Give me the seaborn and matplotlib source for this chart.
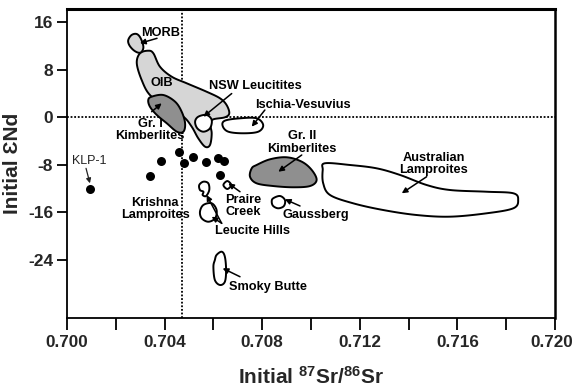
import numpy as np
import pandas as pd
import matplotlib
matplotlib.use("Agg")
import matplotlib.pyplot as plt
import matplotlib.transforms as mtransforms
import seaborn as sns

# ---------------- data ----------------
# individual samples (black dots): initial 87Sr/86Sr, initial eNd
dot_sr = [0.70094, 0.70340, 0.70386, 0.70460, 0.70480, 0.70518, 0.70568, 0.70620, 0.70643, 0.70628]
dot_nd = [-12.1, -9.9, -7.4, -5.8, -7.7, -6.7, -7.6, -6.9, -7.4, -9.7]

# field outlines (Sr, Nd)
morb_sr = [0.70251, 0.70265, 0.70286, 0.70302, 0.70313, 0.70306, 0.70292, 0.70272, 0.70255]
morb_nd = [13.01, 13.86, 14.02, 13.30, 11.89, 11.04, 10.88, 11.33, 12.17]

oib_sr = [0.70299, 0.70333, 0.70354, 0.70381, 0.70429, 0.70491, 0.70572, 0.70627, 0.70654, 0.70665,
          0.70647, 0.70600, 0.70586, 0.70593, 0.70586, 0.70566, 0.70538, 0.70511, 0.70477, 0.70409,
          0.70340, 0.70306, 0.70286]
oib_nd = [10.77, 11.21, 10.77, 8.52, 6.84, 5.72, 4.31, 3.20, 2.07, 0.67,
          0.0, -0.34, -1.01, -2.69, -4.66, -4.95, -3.54, -1.58, 0.10, 1.78,
          3.75, 6.28, 9.09]

gr1_sr = [0.70347, 0.70395, 0.70443, 0.70470, 0.70484, 0.70477, 0.70450, 0.70409, 0.70368, 0.70340, 0.70333]
gr1_nd = [3.47, 3.75, 2.63, 0.94, -1.01, -2.42, -2.42, -1.01, 0.39, 1.78, 2.91]

nsw_sr = [0.70538, 0.70572, 0.70593, 0.70586, 0.70559, 0.70534, 0.70525]
nsw_nd = [0.10, 0.39, -0.45, -1.85, -2.42, -1.85, -0.74]

isv_sr = [0.70647, 0.70709, 0.70777, 0.70804, 0.70784, 0.70722, 0.70661, 0.70638]
isv_nd = [-0.57, -0.17, -0.17, -1.30, -2.42, -2.69, -2.42, -1.46]

gr2_sr = [0.70777, 0.70832, 0.70900, 0.70962, 0.71003, 0.71023, 0.70996, 0.70927, 0.70845, 0.70777, 0.70750, 0.70757]
gr2_nd = [-8.03, -7.07, -6.73, -7.47, -8.87, -10.56, -11.57, -11.78, -11.57, -11.11, -10.00, -8.59]

aus_sr = [0.71057, 0.71160, 0.71269, 0.71365, 0.71474, 0.71570, 0.71720, 0.71829, 0.71849, 0.71829,
          0.71720, 0.71570, 0.71433, 0.71296, 0.71173, 0.71078, 0.71050, 0.71048]
aus_nd = [-7.74, -8.03, -8.59, -9.71, -11.40, -12.24, -12.53, -12.79, -13.92, -15.32,
          -16.16, -16.73, -16.45, -15.61, -14.48, -13.08, -11.11, -8.87]

gau_sr = [0.70845, 0.70873, 0.70893, 0.70889, 0.70866, 0.70845, 0.70839]
gau_nd = [-13.64, -13.25, -13.92, -14.93, -15.32, -14.93, -14.21]

pra_sr = [0.70641, 0.70657, 0.70673, 0.70657]
pra_nd = [-11.40, -10.73, -11.40, -12.07]

lh1_sr = [0.70542, 0.70559, 0.70579, 0.70583, 0.70570, 0.70556, 0.70559, 0.70545]
lh1_nd = [-11.40, -10.84, -11.11, -12.24, -13.25, -13.08, -12.53, -12.24]

lh2_sr = [0.70559, 0.70593, 0.70613, 0.70607, 0.70579, 0.70552, 0.70545]
lh2_nd = [-14.76, -14.48, -15.61, -17.00, -17.58, -17.00, -15.89]

smb_sr = [0.70613, 0.70634, 0.70647, 0.70652, 0.70647, 0.70627, 0.70606, 0.70600, 0.70606]
smb_nd = [-23.18, -22.63, -23.47, -25.72, -27.68, -28.23, -27.39, -25.15, -24.02]

x_ticks = [0.700, 0.704, 0.708, 0.712, 0.716, 0.720]
x_tick_labels = ["0.700", "0.704", "0.708", "0.712", "0.716", "0.720"]
x_minor_ticks = [0.702, 0.706, 0.710, 0.714, 0.718]
y_ticks = [16, 8, 0, -8, -16, -24]
y_tick_labels = ["16", "8", "0", "-8", "-16", "-24"]
sr_divider = 0.7047   # vertical dotted reference line


def smooth_closed(xs, ys, n=14):
    """closed Catmull-Rom curve through the outline points"""
    P = np.column_stack([xs, ys]).astype(float)
    N = len(P)
    out = []
    t = np.linspace(0, 1, n, endpoint=False)[:, None]
    for i in range(N):
        p0, p1, p2, p3 = P[i - 1], P[i], P[(i + 1) % N], P[(i + 2) % N]
        seg = 0.5 * ((2 * p1) + (-p0 + p2) * t + (2 * p0 - 5 * p1 + 4 * p2 - p3) * t ** 2
                     + (-p0 + 3 * p1 - 3 * p2 + p3) * t ** 3)
        out.append(seg)
    out = np.vstack(out)
    out = np.vstack([out, out[:1]])
    return out[:, 0], out[:, 1]


# ---------------- style ----------------
sns.set_theme(style="white")
plt.rcParams["font.family"] = ["Liberation Sans", "DejaVu Sans"]
plt.rcParams["mathtext.fontset"] = "custom"
plt.rcParams["mathtext.rm"] = "Liberation Sans:bold"
plt.rcParams["mathtext.bf"] = "Liberation Sans:bold"
plt.rcParams["mathtext.default"] = "bf"

fig = plt.figure(figsize=(5.76, 3.92), dpi=100)
ax = fig.add_axes([67 / 576, 1 - 318 / 392, (555 - 67) / 576, (318 - 9) / 392])

LW = 1.4
fields = [
    (oib_sr, oib_nd, "#d6d6d6"),
    (gr1_sr, gr1_nd, "#8f8f8f"),
    (nsw_sr, nsw_nd, "white"),
    (morb_sr, morb_nd, "#d6d6d6"),
    (isv_sr, isv_nd, "white"),
    (gr2_sr, gr2_nd, "#8f8f8f"),
    (aus_sr, aus_nd, "white"),
    (gau_sr, gau_nd, "white"),
    (pra_sr, pra_nd, "white"),
    (lh1_sr, lh1_nd, "none"),
    (lh2_sr, lh2_nd, "none"),
    (smb_sr, smb_nd, "none"),
]
for i, (xs, ys, fc) in enumerate(fields):
    sx, sy = smooth_closed(xs, ys)
    ax.fill(sx, sy, facecolor=fc, edgecolor="black", lw=LW, zorder=2 + i * 0.01)

ax.axvline(sr_divider, color="black", lw=1.3, ls=(0, (1, 1)), zorder=1.5)
ax.axhline(0, color="black", lw=1.3, ls=(0, (1, 1)), zorder=1.5)

dots = pd.DataFrame({"sr": dot_sr, "nd": dot_nd})
sns.scatterplot(data=dots, x="sr", y="nd", ax=ax, color="black", s=42,
                edgecolor="black", linewidth=0, zorder=4)

# ---------------- labels / arrows ----------------
tb = dict(fontsize=9.2, fontweight="bold", ha="center", va="center", color="black",
          linespacing=1.05, zorder=5)
ap = dict(arrowstyle="-|>", color="black", lw=1.1, mutation_scale=8, shrinkA=0, shrinkB=0)

ax.text(0.70385, 14.2, "MORB", **tb)
ax.annotate("", xy=(0.70299, 12.46), xytext=(0.70369, 13.3), arrowprops=ap)
ax.text(0.70388, 5.72, "OIB", **tb)
ax.text(0.70770, 5.27, "NSW Leucitites", **tb)
ax.annotate("", xy=(0.70559, 0.10), xytext=(0.70675, 4.0), arrowprops=ap)
ax.text(0.70965, 2.07, "Ischia-Vesuvius", **tb)
ax.annotate("", xy=(0.70757, -1.58), xytext=(0.70811, 1.23), arrowprops=ap)
ax.text(0.70340, -2.14, "Gr. I\nKimberlites", **tb)
ax.annotate("", xy=(0.70388, 2.36), xytext=(0.70347, 0.94), arrowprops=ap)
ax.text(0.70963, -4.24, "Gr. II\nKimberlites", **tb)
ax.annotate("", xy=(0.70866, -9.16), xytext=(0.70962, -6.35), arrowprops=ap)
ax.text(0.71504, -7.86, "Australian\nLamproites", **tb)
ax.annotate("", xy=(0.71372, -12.79), xytext=(0.71474, -10.0), arrowprops=ap)
ax.text(0.70361, -15.44, "Krishna\nLamproites", **tb)
ax.text(0.70721, -14.93, "Praire\nCreek", **tb)
ax.annotate("", xy=(0.70661, -11.11), xytext=(0.70709, -12.53), arrowprops=ap)
ax.text(0.70760, -19.14, "Leucite Hills", **tb)
ax.annotate("", xy=(0.70572, -13.08), xytext=(0.70634, -17.85), arrowprops=ap)
ax.annotate("", xy=(0.70593, -16.73), xytext=(0.70634, -17.85), arrowprops=ap)
ax.text(0.71020, -16.45, "Gaussberg", **tb)
ax.annotate("", xy=(0.70893, -13.80), xytext=(0.70955, -14.93), arrowprops=ap)
ax.text(0.70822, -28.65, "Smoky Butte", **tb)
ax.annotate("", xy=(0.70638, -25.42), xytext=(0.70709, -26.84), arrowprops=ap)
ax.text(0.70090, -7.36, "KLP-1", fontsize=9, ha="center", va="center", color="#222222")
ax.annotate("", xy=(0.70094, -11.11), xytext=(0.70078, -8.59),
            arrowprops=dict(arrowstyle="-|>", color="#222222", lw=0.9, mutation_scale=7,
                            shrinkA=0, shrinkB=0))

# ---------------- axes ----------------
ax.set_xlim(0.700, 0.720)
ax.set_ylim((117.3 - 318) / 5.94, (117.3 - 9) / 5.94)
ax.set_xticks(x_ticks)
ax.set_xticklabels(x_tick_labels, fontsize=12.3, fontweight="bold")
ax.set_xticks(x_minor_ticks, minor=True)
ax.set_yticks(y_ticks)
ax.set_yticklabels(y_tick_labels, fontsize=12.5, fontweight="bold")
ax.tick_params(axis="x", which="both", direction="out", length=8.5, width=1.3,
               pad=4, bottom=True, color="black")
ax.tick_params(axis="y", which="major", direction="out", length=7, width=1.3,
               pad=3, left=True, color="black")
# nudge the last x label slightly left so it stays inside the figure
last = ax.get_xticklabels()[-1]
last.set_transform(last.get_transform() + mtransforms.ScaledTranslation(-3 / 100, 0, fig.dpi_scale_trans))

for side, sp in ax.spines.items():
    sp.set_color("black")
    sp.set_linewidth(1.3)
ax.spines["top"].set_linewidth(2.2)
ax.spines["right"].set_linewidth(1.8)

ax.set_xlabel(r"Initial $^{87}$Sr/$^{86}$Sr", fontsize=15, fontweight="bold", labelpad=11)
ax.set_ylabel("Initial \u0190Nd", fontsize=15, fontweight="bold", labelpad=4)
ax.grid(False)

fig.savefig("out.png", dpi=100)
